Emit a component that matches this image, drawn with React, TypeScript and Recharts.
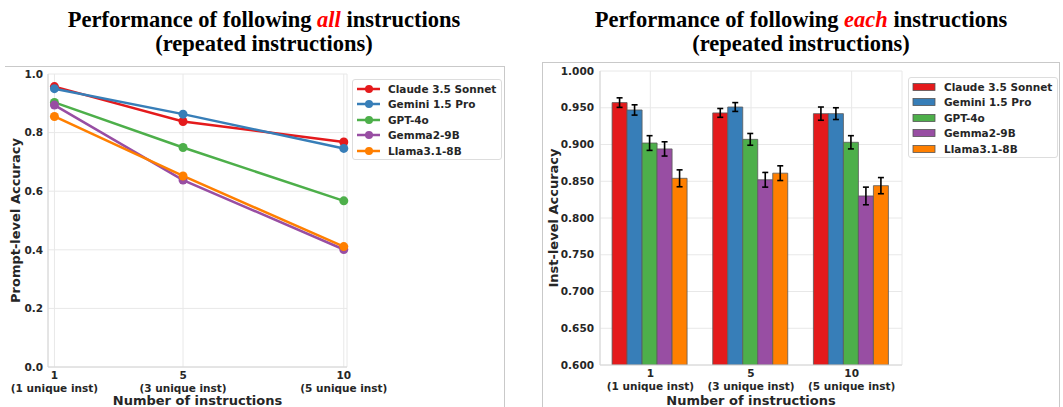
import React from "react";
import {
  LineChart,
  Line,
  BarChart,
  Bar,
  ErrorBar,
  XAxis,
  YAxis,
  CartesianGrid,
  Legend,
  Label,
} from "recharts";

// Models, in plotting order
const models = ["Claude 3.5 Sonnet", "Gemini 1.5 Pro", "GPT-4o", "Gemma2-9B", "Llama3.1-8B"];
const modelKeys = ["claude", "gemini", "gpt4o", "gemma", "llama"];
const modelColors = ["#e41a1c", "#377eb8", "#4daf4a", "#984ea3", "#ff7f00"];

// x-axis: number of instructions and the unique-instruction note under each
const instCounts = [1, 5, 10];
const uniqueNotes = ["(1 unique inst)", "(3 unique inst)", "(5 unique inst)"];

// Prompt-level accuracy (all instructions followed)
const promptClaude = [0.957, 0.838, 0.768];
const promptGemini = [0.95, 0.863, 0.746];
const promptGpt4o = [0.903, 0.749, 0.567];
const promptGemma = [0.894, 0.638, 0.401];
const promptLlama = [0.855, 0.652, 0.411];

// Instruction-level accuracy (each instruction followed) and its error
const instClaude = [0.957, 0.943, 0.942];
const instGemini = [0.947, 0.951, 0.942];
const instGpt4o = [0.902, 0.907, 0.903];
const instGemma = [0.894, 0.852, 0.83];
const instLlama = [0.854, 0.861, 0.844];

const errClaude = [0.0065, 0.006, 0.009];
const errGemini = [0.007, 0.006, 0.008];
const errGpt4o = [0.01, 0.008, 0.009];
const errGemma = [0.0097, 0.01, 0.012];
const errLlama = [0.0115, 0.01, 0.011];

const promptTicks = [0, 0.2, 0.4, 0.6, 0.8, 1.0];
const instTicks = [0.6, 0.65, 0.7, 0.75, 0.8, 0.85, 0.9, 0.95, 1.0];

const promptSeries = [promptClaude, promptGemini, promptGpt4o, promptGemma, promptLlama];
const instSeries = [instClaude, instGemini, instGpt4o, instGemma, instLlama];
const errSeries = [errClaude, errGemini, errGpt4o, errGemma, errLlama];

const lineData = instCounts.map((n, i) => {
  const row: Record<string, number> = { n };
  modelKeys.forEach((k, m) => (row[k] = promptSeries[m][i]));
  return row;
});

const barData = instCounts.map((n, i) => {
  const row: Record<string, any> = { n: String(n) };
  modelKeys.forEach((k, m) => {
    row[k] = instSeries[m][i];
    row[k + "Err"] = errSeries[m][i];
  });
  return row;
});

const FONT = "'DejaVu Sans', sans-serif";
const INK = "#262626";
const GRID = "#e8e8e8";
const SPINE = "#d6d6d6";

const tickStyle = { fill: INK, fontSize: 10.5, fontWeight: 700, fontFamily: FONT };

function TwoLineTick({ x, y, payload }: any) {
  const idx = instCounts.indexOf(Number(payload.value));
  return (
    <g transform={`translate(${x},${y})`} fontFamily={FONT} fontWeight={700} fontSize={10.5} fill={INK}>
      <text textAnchor="middle" y={12}>
        {payload.value}
      </text>
      <text textAnchor="middle" y={24.5}>
        {uniqueNotes[idx]}
      </text>
    </g>
  );
}

function AxisTitle({ viewBox, text, vertical, at }: any) {
  const { x, y, width, height } = viewBox;
  if (vertical) {
    const cx = x + at;
    const cy = y + height / 2;
    return (
      <text
        x={cx}
        y={cy}
        transform={`rotate(-90 ${cx} ${cy})`}
        textAnchor="middle"
        fontFamily={FONT}
        fontWeight={700}
        fontSize={13}
        fill={INK}
      >
        {text}
      </text>
    );
  }
  return (
    <text x={x + width / 2} y={y + at} textAnchor="middle" fontFamily={FONT} fontWeight={700} fontSize={13} fill={INK}>
      {text}
    </text>
  );
}

function LegendBox({ kind }: { kind: "line" | "bar" }) {
  return (
    <div
      style={{
        width: 150,
        height: 81,
        boxSizing: "border-box",
        border: "1px solid #dddddd",
        borderRadius: 3,
        background: "#fff",
        paddingTop: 1,
        fontFamily: FONT,
        fontWeight: 700,
        fontSize: 10.5,
        color: INK,
      }}
    >
      {models.map((name, i) => (
        <div key={name} style={{ height: 15.5, display: "flex", alignItems: "center" }}>
          {kind === "line" ? (
            <svg width={35} height={12} style={{ flex: "none" }}>
              <line x1={4} x2={27} y1={6} y2={6} stroke={modelColors[i]} strokeWidth={2.5} />
              <circle cx={16} cy={6} r={4} fill={modelColors[i]} />
            </svg>
          ) : (
            <svg width={35} height={12} style={{ flex: "none" }}>
              <rect x={4} y={2.5} width={22} height={7} fill={modelColors[i]} stroke="#555" strokeWidth={0.8} />
            </svg>
          )}
          <span>{name}</span>
        </div>
      ))}
    </div>
  );
}

function Title({ word, cx }: { word: string; cx: number }) {
  return (
    <div
      style={{
        position: "absolute",
        left: cx - 260,
        width: 520,
        top: 7.5,
        textAlign: "center",
        fontFamily: "'Liberation Serif', 'Times New Roman', serif",
        fontWeight: 700,
        fontSize: 22.5,
        lineHeight: "24px",
        color: "#000",
      }}
    >
      Performance of following <i style={{ color: "#ff0000" }}>{word}</i> instructions
      <br />
      (repeated instructions)
    </div>
  );
}

export default function App() {
  return (
    <div
      style={{
        position: "absolute",
        left: 0,
        top: 0,
        width: 1063,
        height: 407,
        background: "#fff",
        overflow: "hidden",
      }}
    >
      <Title word="all" cx={264} />
      <Title word="each" cx={801} />

      {/* panel frames */}
      <div
        style={{
          position: "absolute",
          left: 5,
          top: 66,
          width: 500,
          height: 360,
          borderTop: "1px solid #c9c9c9",
          borderRight: "1px solid #c9c9c9",
          boxSizing: "border-box",
        }}
      />
      <div
        style={{
          position: "absolute",
          left: 542,
          top: 62,
          width: 518,
          height: 360,
          border: "1px solid #c9c9c9",
          boxSizing: "border-box",
        }}
      />

      <div style={{ position: "absolute", left: 0, top: 0 }}>
        <LineChart width={510} height={407} data={lineData} margin={{ top: 74, right: 163, bottom: 0, left: 0 }}>
          <CartesianGrid stroke={GRID} strokeWidth={1} />
          <XAxis
            type="number"
            dataKey="n"
            domain={[0.8, 10.1]}
            ticks={instCounts}
            height={40}
            tickSize={0}
            tickMargin={0}
            tick={<TwoLineTick />}
            stroke={SPINE}
            axisLine={{ stroke: SPINE }}
            tickLine={false}
          >
            <Label content={(p: any) => <AxisTitle {...p} text="Number of instructions" at={37.5} />} />
          </XAxis>
          <XAxis
            xAxisId="top"
            orientation="top"
            type="number"
            dataKey="n"
            domain={[0.8, 10.1]}
            height={0}
            tick={false}
            tickLine={false}
            axisLine={{ stroke: SPINE }}
          />
          <YAxis
            domain={[0, 1]}
            ticks={promptTicks}
            width={48}
            tickSize={0}
            tickMargin={5}
            tickLine={false}
            axisLine={{ stroke: SPINE }}
            tick={tickStyle}
            tickFormatter={(v: number) => v.toFixed(1)}
          >
            <Label content={(p: any) => <AxisTitle {...p} text="Prompt-level Accuracy" vertical at={19.5} />} />
          </YAxis>
          <YAxis
            yAxisId="right"
            orientation="right"
            domain={[0, 1]}
            width={0}
            tick={false}
            tickLine={false}
            axisLine={{ stroke: SPINE }}
          />
          <Legend
            layout="vertical"
            align="center"
            verticalAlign="middle"
            wrapperStyle={{ left: 352, top: 79, width: 150, height: 81 }}
            content={() => <LegendBox kind="line" />}
          />
          {modelKeys.map((k, i) => (
            <Line
              key={k}
              dataKey={k}
              name={models[i]}
              stroke={modelColors[i]}
              strokeWidth={2.5}
              dot={{ r: 4.5, fill: modelColors[i], stroke: modelColors[i], strokeWidth: 0 }}
              activeDot={false}
              isAnimationActive={false}
            />
          ))}
        </LineChart>
      </div>

      <div style={{ position: "absolute", left: 540, top: 0 }}>
        <BarChart
          width={523}
          height={407}
          data={barData}
          margin={{ top: 71, right: 161, bottom: 0, left: 0 }}
          barCategoryGap="12%"
          barGap={0}
        >
          <CartesianGrid stroke={GRID} strokeWidth={1} />
          <XAxis
            dataKey="n"
            height={42}
            tickSize={0}
            tickMargin={0}
            tick={<TwoLineTick />}
            tickLine={false}
            axisLine={{ stroke: SPINE }}
          >
            <Label content={(p: any) => <AxisTitle {...p} text="Number of instructions" at={39.5} />} />
          </XAxis>
          <XAxis xAxisId="top" orientation="top" dataKey="n" height={0} tick={false} tickLine={false} axisLine={{ stroke: SPINE }} />
          <YAxis
            domain={[0.6, 1.0]}
            ticks={instTicks}
            allowDataOverflow
            width={60}
            tickSize={0}
            tickMargin={6}
            tickLine={false}
            axisLine={{ stroke: SPINE }}
            tick={tickStyle}
            tickFormatter={(v: number) => v.toFixed(3)}
          >
            <Label content={(p: any) => <AxisTitle {...p} text="Inst-level Accuracy" vertical at={17.5} />} />
          </YAxis>
          <YAxis
            yAxisId="right"
            orientation="right"
            domain={[0.6, 1.0]}
            width={0}
            tick={false}
            tickLine={false}
            axisLine={{ stroke: SPINE }}
          />
          <Legend
            layout="vertical"
            align="center"
            verticalAlign="middle"
            wrapperStyle={{ left: 368, top: 77, width: 150, height: 81 }}
            content={() => <LegendBox kind="bar" />}
          />
          {modelKeys.map((k, i) => (
            <Bar key={k} dataKey={k} name={models[i]} fill={modelColors[i]} stroke="#5a5a5a" strokeWidth={0.8} isAnimationActive={false}>
              <ErrorBar dataKey={k + "Err"} width={3} stroke="#000" strokeWidth={1.6} />
            </Bar>
          ))}
        </BarChart>
      </div>
    </div>
  );
}
